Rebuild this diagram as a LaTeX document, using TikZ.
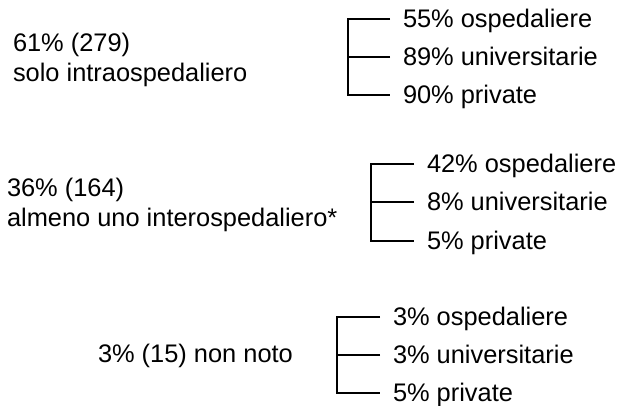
\documentclass[tikz,border=0pt]{standalone}
\usepackage{fontspec}
\setmainfont{Liberation Sans}
\begin{document}
\begin{tikzpicture}[x=0.5pt, y=-0.5pt, line width=1pt,
    every node/.style={font=\fontsize{12.7}{15}\selectfont},
    share/.style={anchor=west, inner xsep=6pt, inner ysep=0pt, text height=9pt, text depth=0pt},
    group/.style={anchor=west, align=left, inner sep=0pt}]
    \useasboundingbox (0,0) rectangle (622,406);
    % left labels
    \node[group] (intra) at (12,60) {61\% (279)\\solo intraospedaliero};
    \node[group] (inter) at (6,205) {36\% (164)\\almeno uno interospedaliero*};
    \node[group, anchor=base west] (ignoto) at (97,363) {3\% (15) non noto};
    % right labels
    \node[share] (osp1) at (390,19) {55\% ospedaliere};
    \node[share] (uni1) at (390,57) {89\% universitarie};
    \node[share] (pri1) at (390,95) {90\% private};
    \node[share] (osp2) at (414,164) {42\% ospedaliere};
    \node[share] (uni2) at (414,202) {8\% universitarie};
    \node[share] (pri2) at (414,241) {5\% private};
    \node[share] (osp3) at (380,317) {3\% ospedaliere};
    \node[share] (uni3) at (380,355) {3\% universitarie};
    \node[share] (pri3) at (380,393) {5\% private};
    % brackets
    \coordinate (v1) at (348,0);
    \coordinate (v2) at (371,0);
    \coordinate (v3) at (337,0);
    \foreach \g in {1,2,3}{
        \draw (osp\g.west) -- (osp\g.west -| v\g) -- (pri\g.west -| v\g) -- (pri\g.west);
        \draw (uni\g.west) -- (uni\g.west -| v\g);
    }
\end{tikzpicture}
\end{document}
